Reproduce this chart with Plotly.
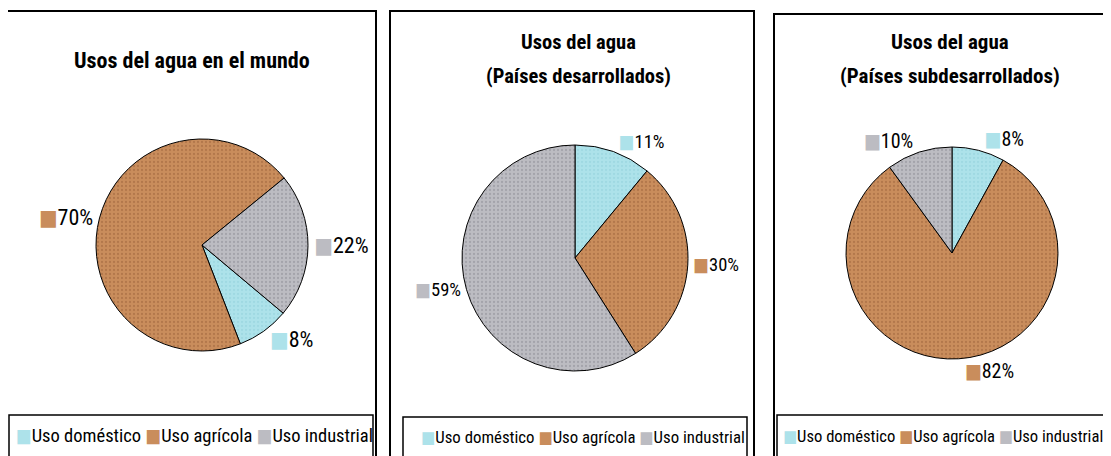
import plotly.graph_objects as go

# The page body has an 8px margin, so the figure is drawn 8px in from the top-left.
OFF = 8
W, H = 1111, 456
FW, FH = W - OFF, H - OFF

categories = ["Uso doméstico", "Uso agrícola", "Uso industrial"]
colors = ["#ade2ea", "#c98d5c", "#bcbcc2"]
pattern_fg = ["#8fcfd9", "#9c6239", "#8a8a92"]

titles = [
    ["Usos del agua en el mundo"],
    ["Usos del agua", "(Países desarrollados)"],
    ["Usos del agua", "(Países subdesarrollados)"],
]
values_mundo = [8, 70, 22]
values_desarrollados = [11, 30, 59]
values_subdesarrollados = [8, 82, 10]
rotations = [130, 0, 0]

NARROW = "Liberation Sans Narrow, Arial Narrow, Roboto Condensed, DejaVu Sans Condensed, sans-serif"


def px_x(v):
    return (v - OFF) / FW


def px_y(v):
    return 1 - (v - OFF) / FH


# panel geometry (pixels of the 1111x456 window)
panels = [
    dict(box=(7, 11, 376, 470), leg=(9, 415, 373, 470), cx=202, cy=245, d=212,
         title_x=192, title_y=[60], title_size=22, label_size=22,
         leg_x=14, leg_y=436, leg_size=18.5),
    dict(box=(390, 11, 754, 470), leg=(403, 417, 747, 470), cx=575, cy=258, d=226,
         title_x=578, title_y=[42, 76], title_size=20.5, label_size=18.5,
         leg_x=419, leg_y=437, leg_size=16.8),
    dict(box=(774, 14, 1118, 470), leg=(777, 415, 1118, 470), cx=952, cy=253, d=212,
         title_x=950, title_y=[42, 76], title_size=21, label_size=20,
         leg_x=781, leg_y=436, leg_size=16.6),
]

all_values = [values_mundo, values_desarrollados, values_subdesarrollados]

fig = go.Figure()
shapes = []
annotations = []

legend_text = " ".join(
    f"<span style='color:{c}'>■</span>{lab}" for c, lab in zip(colors, categories)
)

for i, (p, vals) in enumerate(zip(panels, all_values)):
    r = p["d"] / 2
    fig.add_trace(go.Pie(
        labels=categories,
        values=vals,
        sort=False,
        direction="clockwise",
        rotation=rotations[i],
        customdata=colors,
        texttemplate="<span style='color:%{customdata}'>■</span>%{value}%",
        textposition="outside",
        textfont=dict(family=NARROW, size=p["label_size"], color="black"),
        marker=dict(colors=colors, line=dict(color="black", width=1),
                    pattern=dict(shape=[".", ".", "."], fgcolor=pattern_fg,
                                 size=4, solidity=0.25, fillmode="overlay")),
        domain=dict(x=[px_x(p["cx"] - r), px_x(p["cx"] + r)],
                    y=[px_y(p["cy"] + r), px_y(p["cy"] - r)]),
        showlegend=False,
        hoverinfo="label+percent",
    ))
    x0, y0, x1, y1 = p["box"]
    shapes.append(dict(type="rect", xref="paper", yref="paper",
                       x0=px_x(x0), x1=px_x(x1), y0=px_y(y1), y1=px_y(y0),
                       line=dict(color="black", width=2)))
    lx0, ly0, lx1, ly1 = p["leg"]
    shapes.append(dict(type="rect", xref="paper", yref="paper",
                       x0=px_x(lx0), x1=px_x(lx1), y0=px_y(ly1), y1=px_y(ly0),
                       line=dict(color="black", width=1.5)))
    for t, ty in zip(titles[i], p["title_y"]):
        annotations.append(dict(text=f"<b>{t}</b>", x=px_x(p["title_x"]),
                                y=px_y(ty), xref="paper", yref="paper",
                                showarrow=False, xanchor="center", yanchor="middle",
                                font=dict(family=NARROW, size=p["title_size"], color="black")))
    annotations.append(dict(text=legend_text, x=px_x(p["leg_x"]), y=px_y(p["leg_y"]),
                            xref="paper", yref="paper", showarrow=False,
                            xanchor="left", yanchor="middle", align="left",
                            font=dict(family=NARROW, size=p["leg_size"], color="black")))

fig.update_layout(
    width=FW, height=FH,
    margin=dict(l=0, r=0, t=0, b=0),
    paper_bgcolor="white", plot_bgcolor="white",
    showlegend=False,
    shapes=shapes, annotations=annotations,
)

fig.write_html("out.html")
